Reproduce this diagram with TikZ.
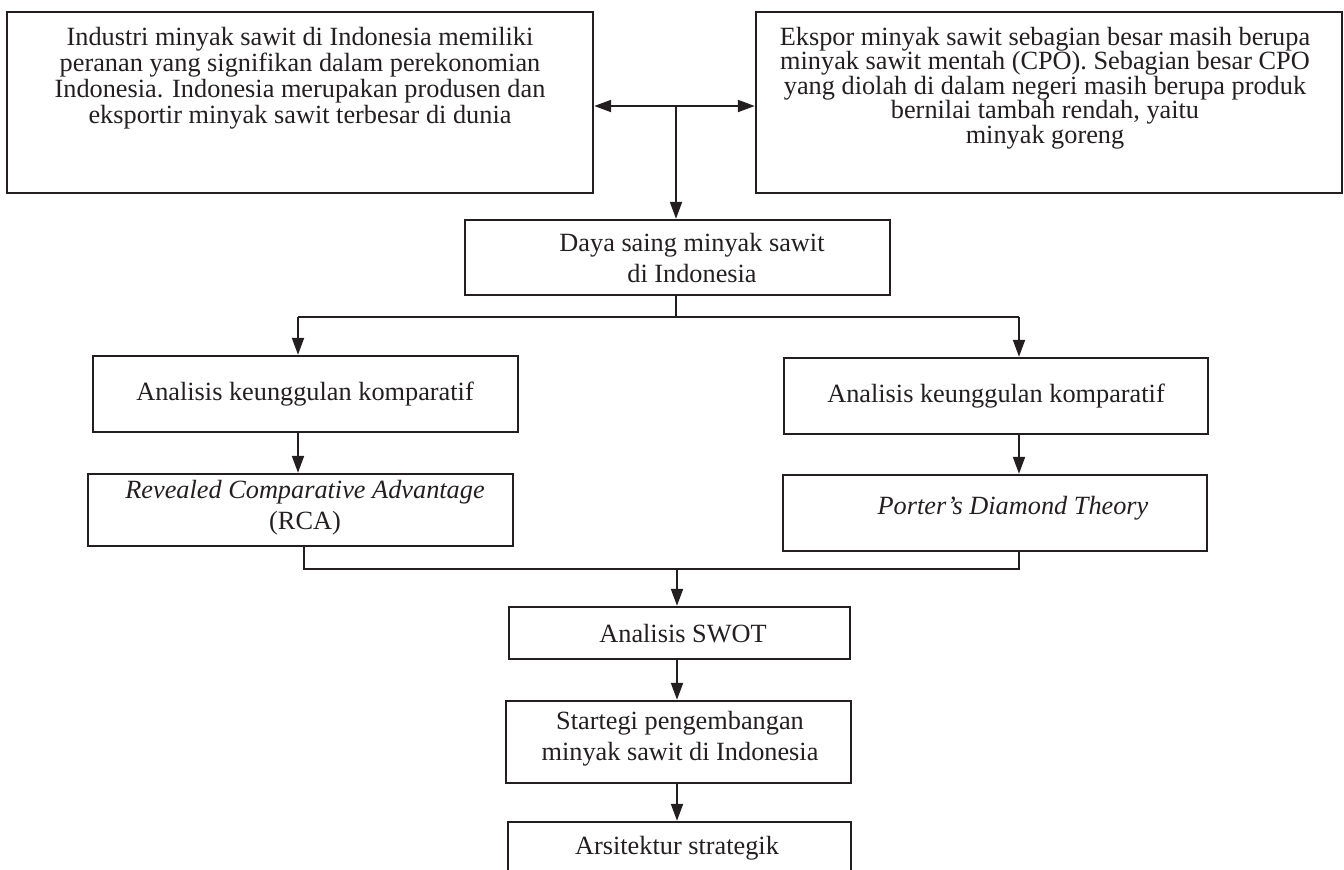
\documentclass[tikz,border=0pt]{standalone}
\usepackage{fontspec}
\setmainfont{Liberation Serif}
\usetikzlibrary{arrows.meta,fit}
\definecolor{ink}{HTML}{231F20}
\begin{document}
\begin{tikzpicture}[x=0.5pt,y=-0.5pt,
  frame/.style={draw=ink, line width=1.2pt, inner sep=0pt},
  txt/.style={align=center, inner sep=0pt, text=ink, font=\fontsize{13.15}{15.5}\selectfont},
  conn/.style={draw=ink, line width=1pt},
  arr/.style={conn, -{Triangle[length=8.5pt,width=6pt]}}
]
\useasboundingbox (0,0) rectangle (1344,869);
\clip (0,0) rectangle (1344,869);

% boxes
\node[frame, fit={(7,12) (593,193)}] (b1) {};
\node[frame, fit={(756,12) (1342,193)}] (b2) {};
\node[frame, fit={(465,220) (890,295)}] (b3) {};
\node[frame, fit={(93,356) (518,432)}] (b4) {};
\node[frame, fit={(88,474) (513,546)}] (b6) {};
\node[frame, fit={(784,358) (1208,434)}] (b5) {};
\node[frame, fit={(783,475) (1207,551)}] (b7) {};
\node[frame, fit={(509,607) (850,659)}] (b8) {};
\node[frame, fit={(506,701) (851,783)}] (b9) {};
\node[frame, fit={(508,822) (851,876)}] (b10) {};

% texts
\node[txt, font=\fontsize{13.15}{13}\selectfont] (t1) at (300,78)
  {Industri minyak sawit di Indonesia memiliki\\peranan yang signifikan dalam perekonomian\\Indonesia. Indonesia merupakan produsen dan\\eksportir minyak sawit terbesar di dunia};
\node[txt, font=\fontsize{13.15}{12.3}\selectfont] (t2) at (1045,88)
  {Ekspor minyak sawit sebagian besar masih berupa\\minyak sawit mentah (CPO). Sebagian besar CPO\\yang diolah di dalam negeri masih berupa produk\\bernilai tambah rendah, yaitu\\minyak goreng};
\node[txt] (t3) at (692,257.5) {Daya saing minyak sawit\\di Indonesia};
\node[txt] (t4) at (305,394) {Analisis keunggulan komparatif};
\node[txt] (t5) at (996,396) {Analisis keunggulan komparatif};
\node[txt] (t6) at (305,507.5) {\textit{Revealed Comparative Advantage}\\(RCA)};
\node[txt] (t7) at (1013,508) {\textit{Porter’s Diamond Theory}};
\node[txt] (t8) at (683,634) {Analisis SWOT};
\node[txt] (t9) at (680,739) {Startegi pengembangan\\minyak sawit di Indonesia};
\node[txt] (t10) at (677,848) {Arsitektur strategik};

% junction points
\coordinate (j1) at (676,106);
\coordinate (j2) at (676,317);
\coordinate (l1) at (298,317);
\coordinate (r1) at (1019,317);
\coordinate (m1) at (304,569);
\coordinate (m2) at (1019,569);
\coordinate (m3) at (677,569);

% connectors
\draw[arr] (j1) -- (j1 -| b1.east);
\draw[arr] (j1) -- (j1 -| b2.west);
\draw[arr] (j1) -- (j1 |- b3.north);
\draw[conn] (b3.south -| j2) -- (j2);
\draw[conn] (l1) -- (r1);
\draw[arr] (l1) -- (l1 |- b4.north);
\draw[arr] (r1) -- (r1 |- b5.north);
\draw[arr] (b4.south -| l1) -- (b6.north -| l1);
\draw[arr] (b5.south -| r1) -- (b7.north -| r1);
\draw[conn] (b6.south -| m1) -- (m1) -- (m2) -- (b7.south -| m2);
\draw[arr] (m3) -- (b8.north -| m3);
\draw[arr] (b8.south -| m3) -- (b9.north -| m3);
\draw[arr] (b9.south -| m3) -- (b10.north -| m3);
\end{tikzpicture}
\end{document}
